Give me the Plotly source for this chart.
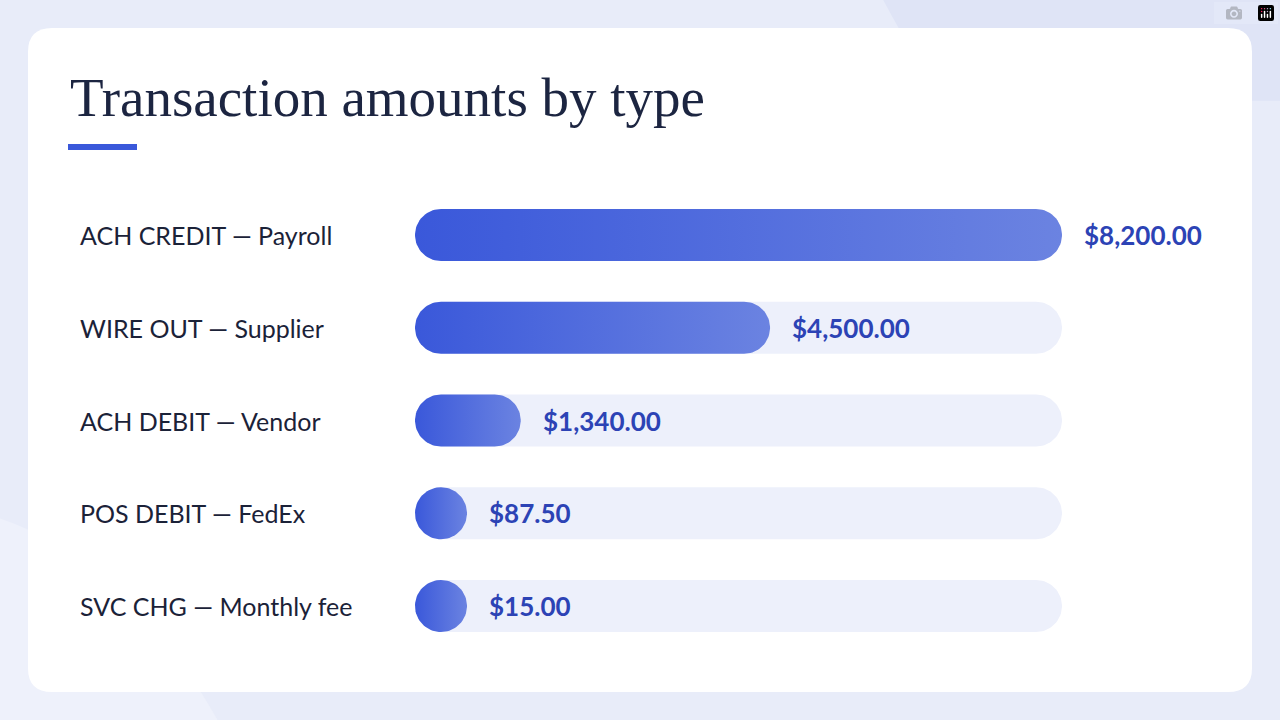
import numpy as np
import plotly.graph_objects as go

# data
categories = ['ACH CREDIT — Payroll', 'WIRE OUT — Supplier', 'ACH DEBIT — Vendor',
              'POS DEBIT — FedEx', 'SVC CHG — Monthly fee']
amounts = [8200.00, 4500.00, 1340.00, 87.50, 15.00]
x_max = 8200.0

W, H = 1280, 720
# plot area in pixels
px_left, px_right = 415, 1062
row_top, row_bottom = 235, 606
row_step = (row_bottom - row_top) / (len(categories) - 1)
bar_px = 52

rx = (bar_px / 2) / (px_right - px_left) * x_max   # cap radius in x units
ry = (bar_px / 2) / row_step                        # cap radius in y units


def stadium(x0, x1, yc):
    """Rounded bar outline from x0 to x1 centred on yc."""
    x1 = max(x1, x0 + 2 * rx)
    t = np.linspace(-np.pi / 2, np.pi / 2, 40)
    xs = list(x1 - rx + rx * np.cos(t)) + list(x0 + rx - rx * np.cos(t[::-1]))
    ys = list(yc + ry * np.sin(t)) + list(yc + ry * np.sin(t[::-1]))
    return xs + [xs[0]], ys + [ys[0]]


fig = go.Figure()

for i, (cat, val) in enumerate(zip(categories, amounts)):
    tx, ty = stadium(0, x_max, i)
    fig.add_trace(go.Scatter(x=tx, y=ty, fill='toself', fillcolor='#edf0fb',
                             mode='lines', line=dict(width=0), hoverinfo='skip'))
    bx, by = stadium(0, val, i)
    fig.add_trace(go.Scatter(
        x=bx, y=by, fill='toself', mode='lines', line=dict(width=0),
        fillgradient=dict(type='horizontal', colorscale=[[0, '#3a58da'], [1, '#6b83e1']]),
        hoverinfo='skip'))
    fig.add_annotation(x=78 / W, xref='paper', y=i, yref='y', text=cat, showarrow=False,
                       xanchor='left', font=dict(family='Lato', size=25, color='#1b2238'))
    fig.add_annotation(x=max(val, 2 * rx), y=i, text=f'<b>${val:,.2f}</b>', showarrow=False,
                       xanchor='left', xshift=20,
                       font=dict(family='Lato', size=26, color='#2c43b5'))

# card with rounded corners (paper coords)
r = 24
x0, x1, y0, y1 = 28 / W, 1252 / W, 1 - 692 / H, 1 - 28 / H
rxp, ryp = r / W, r / H
card = (f'M {x0 + rxp},{y0} L {x1 - rxp},{y0} Q {x1},{y0} {x1},{y0 + ryp} '
        f'L {x1},{y1 - ryp} Q {x1},{y1} {x1 - rxp},{y1} L {x0 + rxp},{y1} '
        f'Q {x0},{y1} {x0},{y1 - ryp} L {x0},{y0 + ryp} Q {x0},{y0} {x0 + rxp},{y0} Z')

fig.update_layout(
    width=W, height=H, margin=dict(l=0, r=0, t=0, b=0),
    paper_bgcolor='#e8ecf9', plot_bgcolor='rgba(0,0,0,0)', showlegend=False,
    xaxis=dict(domain=[px_left / W, px_right / W], range=[0, x_max], visible=False, fixedrange=True),
    yaxis=dict(domain=[1 - (row_bottom + row_step / 2) / H, 1 - (row_top - row_step / 2) / H],
               range=[len(categories) - 0.5, -0.5], visible=False, fixedrange=True),
    shapes=[
        dict(type='path', xref='paper', yref='paper', layer='below',
             path=f'M 0.69,1 Q 0.72,0.9 0.74,0.86 L 1,0.86 L 1,1 Z',
             fillcolor='#dfe4f6', line=dict(width=0)),
        dict(type='path', xref='paper', yref='paper', layer='below',
             path='M 0,0.28 Q 0.1,0.22 0.17,0 L 0,0 Z',
             fillcolor='#eef1fb', line=dict(width=0)),
        dict(type='path', xref='paper', yref='paper', layer='below', path=card,
             fillcolor='#ffffff', line=dict(width=0)),
        dict(type='rect', xref='paper', yref='paper', layer='below',
             x0=68 / W, x1=137 / W, y0=1 - 150 / H, y1=1 - 144 / H,
             fillcolor='#3a58da', line=dict(width=0)),
    ],
)
fig.add_annotation(x=68 / W, y=1 - 98 / H, xref='paper', yref='paper', text='Transaction amounts by type',
                   showarrow=False, xanchor='left', yanchor='middle',
                   font=dict(family='Liberation Serif', size=55, color='#1c2541'))

fig.write_html('out.html', post_script="document.body.style.margin='0';")
